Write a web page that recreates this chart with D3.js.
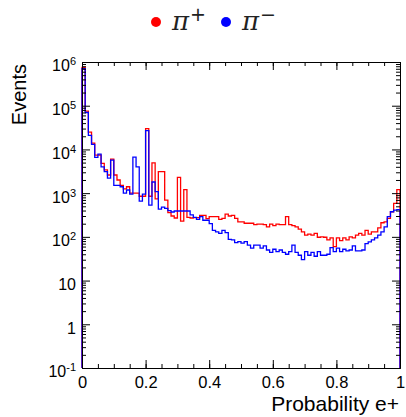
<!DOCTYPE html>
<html>
<head>
<meta charset="utf-8">
<script src="https://cdn.jsdelivr.net/npm/d3@7"></script>
<style>
  body { margin: 0; background: #fff; }
  svg { font-family: "Liberation Sans", Arial, sans-serif; }
</style>
</head>
<body>
<div id="chart"></div>
<script>
// histogram setup: 100 bins between 0 and 1
var nBins = 100;
var xMin = 0, xMax = 1;
var yMin = 0.1, yMax = 1e6;

// pi+ counts per bin
var piPlus = [
  750000, 75000, 25000, 14000, 7400, 7400, 4800, 3400, 2600, 6000,
  2600, 2000, 1500, 1250, 1400, 1000, 1000, 1000, 850, 850,
  30000, 850, 4900, 740, 3100, 3100, 690, 360, 300, 270,
  2300, 230, 1200, 280, 270, 275, 275, 310, 310, 260,
  290, 290, 290, 250, 265, 330, 300, 310, 265, 220,
  220, 205, 205, 205, 190, 195, 196, 190, 170, 196,
  180, 196, 190, 190, 290, 190, 180, 170, 150, 130,
  110, 115, 110, 120, 98, 100, 98, 85, 95, 60,
  95, 82, 95, 85, 100, 95, 110, 120, 110, 140,
  115, 130, 130, 160, 210, 220, 265, 375, 585, 1200
];

// pi- counts per bin
var piMinus = [
  700000, 70000, 21000, 13000, 6600, 7800, 4000, 3100, 2200, 5700,
  1500, 1500, 1400, 1000, 1180, 950, 6700, 4000, 660, 950,
  27000, 530, 1800, 1080, 430, 480, 450, 400, 370, 390,
  390, 390, 390, 390, 320, 280, 250, 290, 240, 240,
  200, 140, 130, 120, 140, 125, 88, 85, 74, 78,
  72, 78, 65, 55, 65, 65, 55, 62, 50, 44,
  52, 46, 50, 44, 40, 46, 65, 44, 38, 30,
  46, 38, 44, 36, 46, 38, 38, 40, 57, 46,
  55, 46, 52, 48, 50, 62, 48, 48, 50, 70,
  77, 85, 95, 110, 130, 170, 290, 375, 410, 420
];

var xMajor = [0, 0.2, 0.4, 0.6, 0.8, 1];
var yDecades = [0.1, 1, 10, 100, 1000, 10000, 100000, 1000000];
var yLabels = [["10", "-1"], ["1", ""], ["10", ""], ["10", "2"], ["10", "3"], ["10", "4"], ["10", "5"], ["10", "6"]];

var series = [
  {name: "+", values: piPlus, color: "#ff0000"},
  {name: "\u2212", values: piMinus, color: "#0000ff"}
];

// svg container
var svgWidth = 406;
var svgHeight = 417;

var margin = {top: 62, right: 6, bottom: 49, left: 82};
var chartWidth = svgWidth - margin.left - margin.right;
var chartHeight = svgHeight - margin.top - margin.bottom;

var svg = d3.select("#chart").append("svg")
  .attr("width", svgWidth)
  .attr("height", svgHeight);

var chartGroup = svg.append("g")
  .attr("transform", `translate(${margin.left}, ${margin.top})`);

var xScale = d3.scaleLinear().domain([xMin, xMax]).range([0, chartWidth]);
var yScale = d3.scaleLog().domain([yMin, yMax]).range([chartHeight, 0]).clamp(true);

var binWidth = (xMax - xMin) / nBins;

// minor ticks
var xMinor = d3.range(0, 21).map(i => i * 0.05);
var yMinor = [];
yDecades.slice(0, -1).forEach(function(d) {
  for (var k = 2; k <= 9; k++) yMinor.push(d * k);
});

// histogram outlines
var line = d3.line().x(d => d[0]).y(d => d[1]);

series.forEach(function(s) {
  var pts = [[xScale(xMin), yScale(yMin)]];
  s.values.forEach(function(v, i) {
    var lo = xMin + i * binWidth;
    pts.push([xScale(lo), yScale(v)]);
    pts.push([xScale(lo + binWidth), yScale(v)]);
  });
  pts.push([xScale(xMax), yScale(yMin)]);
  chartGroup.append("path")
    .attr("d", line(pts))
    .attr("fill", "none")
    .attr("stroke", s.color)
    .attr("stroke-width", 1.3);
});

// axes
function styleAxis(g) {
  g.select(".domain").attr("stroke", "#000").attr("stroke-width", 1);
  g.selectAll(".tick line").attr("stroke", "#000");
}

chartGroup.append("g")
  .attr("transform", `translate(0, ${chartHeight})`)
  .call(d3.axisBottom(xScale).tickValues(xMinor).tickSize(-4).tickSizeOuter(0).tickFormat(""))
  .call(styleAxis);

chartGroup.append("g")
  .attr("transform", `translate(0, ${chartHeight})`)
  .call(d3.axisBottom(xScale).tickValues(xMajor).tickSize(-8).tickSizeOuter(0).tickPadding(8)
    .tickFormat(d => (d === 0 || d === 1) ? String(d) : d3.format(".1f")(d)))
  .call(styleAxis)
  .selectAll("text")
  .attr("font-size", "16.5px")
  .attr("font-family", "Liberation Sans, Arial, sans-serif")
  .attr("fill", "#000");

chartGroup.append("g")
  .call(d3.axisTop(xScale).tickValues(xMinor).tickSize(-4).tickSizeOuter(0).tickFormat(""))
  .call(styleAxis);

chartGroup.append("g")
  .call(d3.axisTop(xScale).tickValues(xMajor).tickSize(-8).tickSizeOuter(0).tickFormat(""))
  .call(styleAxis);

chartGroup.append("g")
  .call(d3.axisLeft(yScale).tickValues(yMinor).tickSize(-4).tickSizeOuter(0).tickFormat(""))
  .call(styleAxis);

var yAxisG = chartGroup.append("g")
  .call(d3.axisLeft(yScale).tickValues(yDecades).tickSize(-8).tickSizeOuter(0).tickPadding(6)
    .tickFormat(""))
  .call(styleAxis);

chartGroup.append("g")
  .attr("transform", `translate(${chartWidth}, 0)`)
  .call(d3.axisRight(yScale).tickValues(yMinor).tickSize(-4).tickSizeOuter(0).tickFormat(""))
  .call(styleAxis);

chartGroup.append("g")
  .attr("transform", `translate(${chartWidth}, 0)`)
  .call(d3.axisRight(yScale).tickValues(yDecades).tickSize(-8).tickSizeOuter(0).tickFormat(""))
  .call(styleAxis);

// y tick labels with exponents
yAxisG.selectAll(".tick text")
  .attr("font-size", "16px")
  .attr("font-family", "Liberation Sans, Arial, sans-serif")
  .attr("fill", "#000")
  .attr("dy", "0.56em")
  .each(function(d, i) {
    var lab = yLabels[yDecades.indexOf(d)];
    var t = d3.select(this);
    t.append("tspan").text(lab[0]);
    if (lab[1]) {
      t.append("tspan").attr("dy", "-0.55em").attr("font-size", "11px").text(lab[1]);
    }
  });

// axis titles
svg.append("text")
  .attr("transform", `translate(26, ${margin.top + 2}) rotate(-90)`)
  .attr("text-anchor", "end")
  .attr("font-size", "20px")
  .text("Events");

svg.append("text")
  .attr("x", margin.left + chartWidth - 1)
  .attr("y", 411)
  .attr("text-anchor", "end")
  .attr("font-size", "21px")
  .text("Probability e+");

// legend
var legendX = [156, 226];
series.forEach(function(s, i) {
  svg.append("circle")
    .attr("cx", legendX[i])
    .attr("cy", 22)
    .attr("r", 5)
    .attr("fill", s.color);
  var t = svg.append("text")
    .attr("x", legendX[i] + 16)
    .attr("y", 30)
    .attr("font-family", "DejaVu Serif, serif")
    .attr("font-style", "italic")
    .attr("font-size", "26px")
    .attr("fill", "#222")
    .text("\u03c0");
  t.append("tspan")
    .attr("dy", "-0.45em")
    .attr("dx", "1")
    .attr("font-family", "DejaVu Sans, sans-serif")
    .attr("font-style", "normal")
    .attr("font-size", "19px")
    .text(s.name);
});
</script>
</body>
</html>
